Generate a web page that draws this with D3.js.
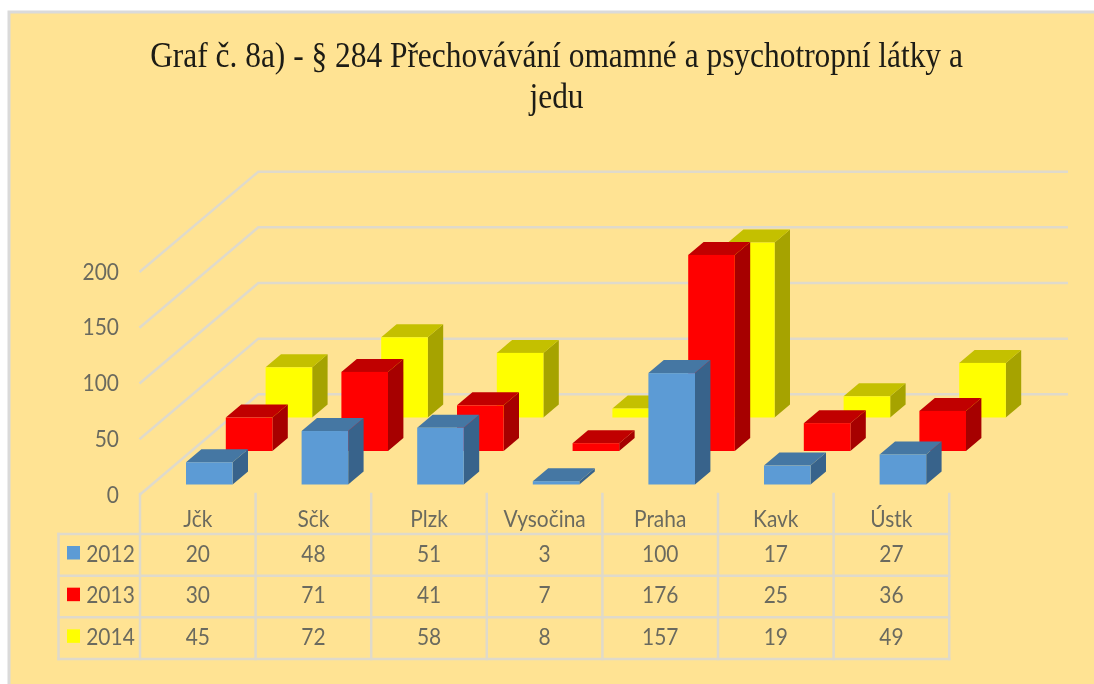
<!DOCTYPE html>
<html><head><meta charset="utf-8">
<script src="https://cdn.jsdelivr.net/npm/d3@7/dist/d3.min.js"></script>
<style>html,body{margin:0;padding:0;background:#fff}svg{display:block}</style>
</head><body><svg id="c" width="1094" height="684"></svg>
<script>
const titleLines = ["Graf č. 8a) - § 284 Přechovávání omamné a psychotropní látky a", "jedu"];
const categories = ["Jčk","Sčk","Plzk","Vysočina","Praha","Kavk","Ústk"];
const years = ["2012","2013","2014"];
const v2012 = [20,48,51,3,100,17,27];
const v2013 = [30,71,41,7,176,25,36];
const v2014 = [45,72,58,8,157,19,49];
const yTicks = [0,50,100,150,200];
const colors = {front:["#5B9BD5","#FF0000","#FFFF00"], top:["#4577A3","#C00000","#C4C000"], side:["#38648B","#A60000","#A6A300"]};
const values = [v2012,v2013,v2014];

const svgRoot = d3.select("#c");
svgRoot.append("defs").append("filter").attr("id","soft").attr("x",0).attr("y",0).attr("width","100%").attr("height","100%")
  .append("feGaussianBlur").attr("stdDeviation",0.45);
const svg = svgRoot.append("g").attr("filter","url(#soft)");
svg.append("rect").attr("width",1094).attr("height",684).attr("fill","#fff");
const GRID="#DFDACB", TXT="#6B6A5E", FONT="Lato, Carlito, sans-serif", SX=0.91;
svg.append("rect").attr("x",9).attr("y",12).attr("width",1090).attr("height",680)
  .attr("fill","#FFE393").attr("stroke","#DADADA").attr("stroke-width",3);

// title
svg.append("g").selectAll("text").data(titleLines).join("text")
  .attr("transform",(d,i)=>`translate(556.5,${66.5+i*41}) scale(0.88,1)`).attr("text-anchor","middle")
  .attr("font-family","'Liberation Serif',serif").attr("font-size",35.7).attr("fill","#1c1a14")
  .text(d=>d);

// scales
const step = 115.6, x0 = 140;
const col = d3.scaleLinear().domain([0,categories.length]).range([x0,x0+step*categories.length]);
const h = d3.scaleLinear().domain([0,50]).range([0,55.7]);
const seriesX = d3.scaleLinear().domain([0,2]).range([46,125.6]);
const seriesBase = d3.scaleLinear().domain([0,2]).range([484.5,417.5]);
const barW = 46.6, dx = 15.4, dy = 13;

// gridlines
const frontY = d3.scaleLinear().domain([0,200]).range([495,272]);
const backY = d3.scaleLinear().domain([0,200]).range([394.3,171.7]);
const gx0=139.5, gx1=258.3, gx2=1068;
svg.append("g").selectAll("path").data(yTicks).join("path")
  .attr("fill","none").attr("stroke",GRID).attr("stroke-width",2.5)
  .attr("d",t=>d3.line()([[gx0,frontY(t)],[gx1,backY(t)],[gx2,backY(t)]]));

// y labels
svg.append("g").selectAll("text").data(yTicks).join("text")
  .attr("transform",t=>`translate(119,${frontY(t)+7.5}) scale(${SX},1)`).attr("text-anchor","end")
  .attr("font-family",FONT).attr("font-size",23).attr("fill",TXT).text(t=>t);

// bars, back row first
[2,1,0].forEach(s=>{
  const g = svg.append("g");
  const base = seriesBase(s);
  const left = i=>col(i)+seriesX(s);
  const top = d=>base-h(d);
  const bars = g.selectAll("g").data(values[s]).join("g");
  const line = d3.line();
  bars.append("path").attr("fill",colors.side[s])
    .attr("d",(d,i)=>line([[left(i)+barW,top(d)],[left(i)+barW+dx,top(d)-dy],[left(i)+barW+dx,base-dy],[left(i)+barW,base]])+"Z");
  bars.append("path").attr("fill",colors.top[s])
    .attr("d",(d,i)=>line([[left(i),top(d)],[left(i)+dx,top(d)-dy],[left(i)+barW+dx,top(d)-dy],[left(i)+barW,top(d)]])+"Z");
  bars.append("rect").attr("fill",colors.front[s])
    .attr("x",(d,i)=>left(i)).attr("y",d=>top(d)).attr("width",barW).attr("height",d=>h(d));
});

// data table
const rowY = d3.scaleLinear().domain([0,3]).range([534,659]);
const tbl = svg.append("g");
const gl = (x1,y1,x2,y2)=>tbl.append("line").attr("x1",x1).attr("y1",y1).attr("x2",x2).attr("y2",y2)
  .attr("stroke",GRID).attr("stroke-width",2.5).attr("stroke-linecap","square");
d3.range(categories.length+1).forEach(i=>gl(col(i),494,col(i),659));
gl(58.5,534,58.5,659);
d3.range(4).forEach(r=>gl(58.5,rowY(r),col(categories.length),rowY(r)));

const ttext = (sel,fx,fy)=>sel.attr("font-family",FONT).attr("font-size",23).attr("fill",TXT).attr("text-anchor","middle")
  .attr("transform",(d,i)=>`translate(${fx(d,i)},${fy}) scale(${SX},1)`);
ttext(tbl.append("g").selectAll("text").data(categories).join("text"),(d,i)=>col(i+.5),527).text(d=>d);
values.forEach((vals,s)=>{
  const y = rowY(s)+27.7;
  ttext(tbl.append("g").selectAll("text").data(vals).join("text"),(d,i)=>col(i+.5),y).text(d=>d);
  tbl.append("rect").attr("x",67).attr("y",rowY(s)+12).attr("width",13).attr("height",13.5).attr("fill",colors.front[s]);
  ttext(tbl.append("text").datum(years[s]),()=>110.5,y).text(years[s]);
});
</script></body></html>
